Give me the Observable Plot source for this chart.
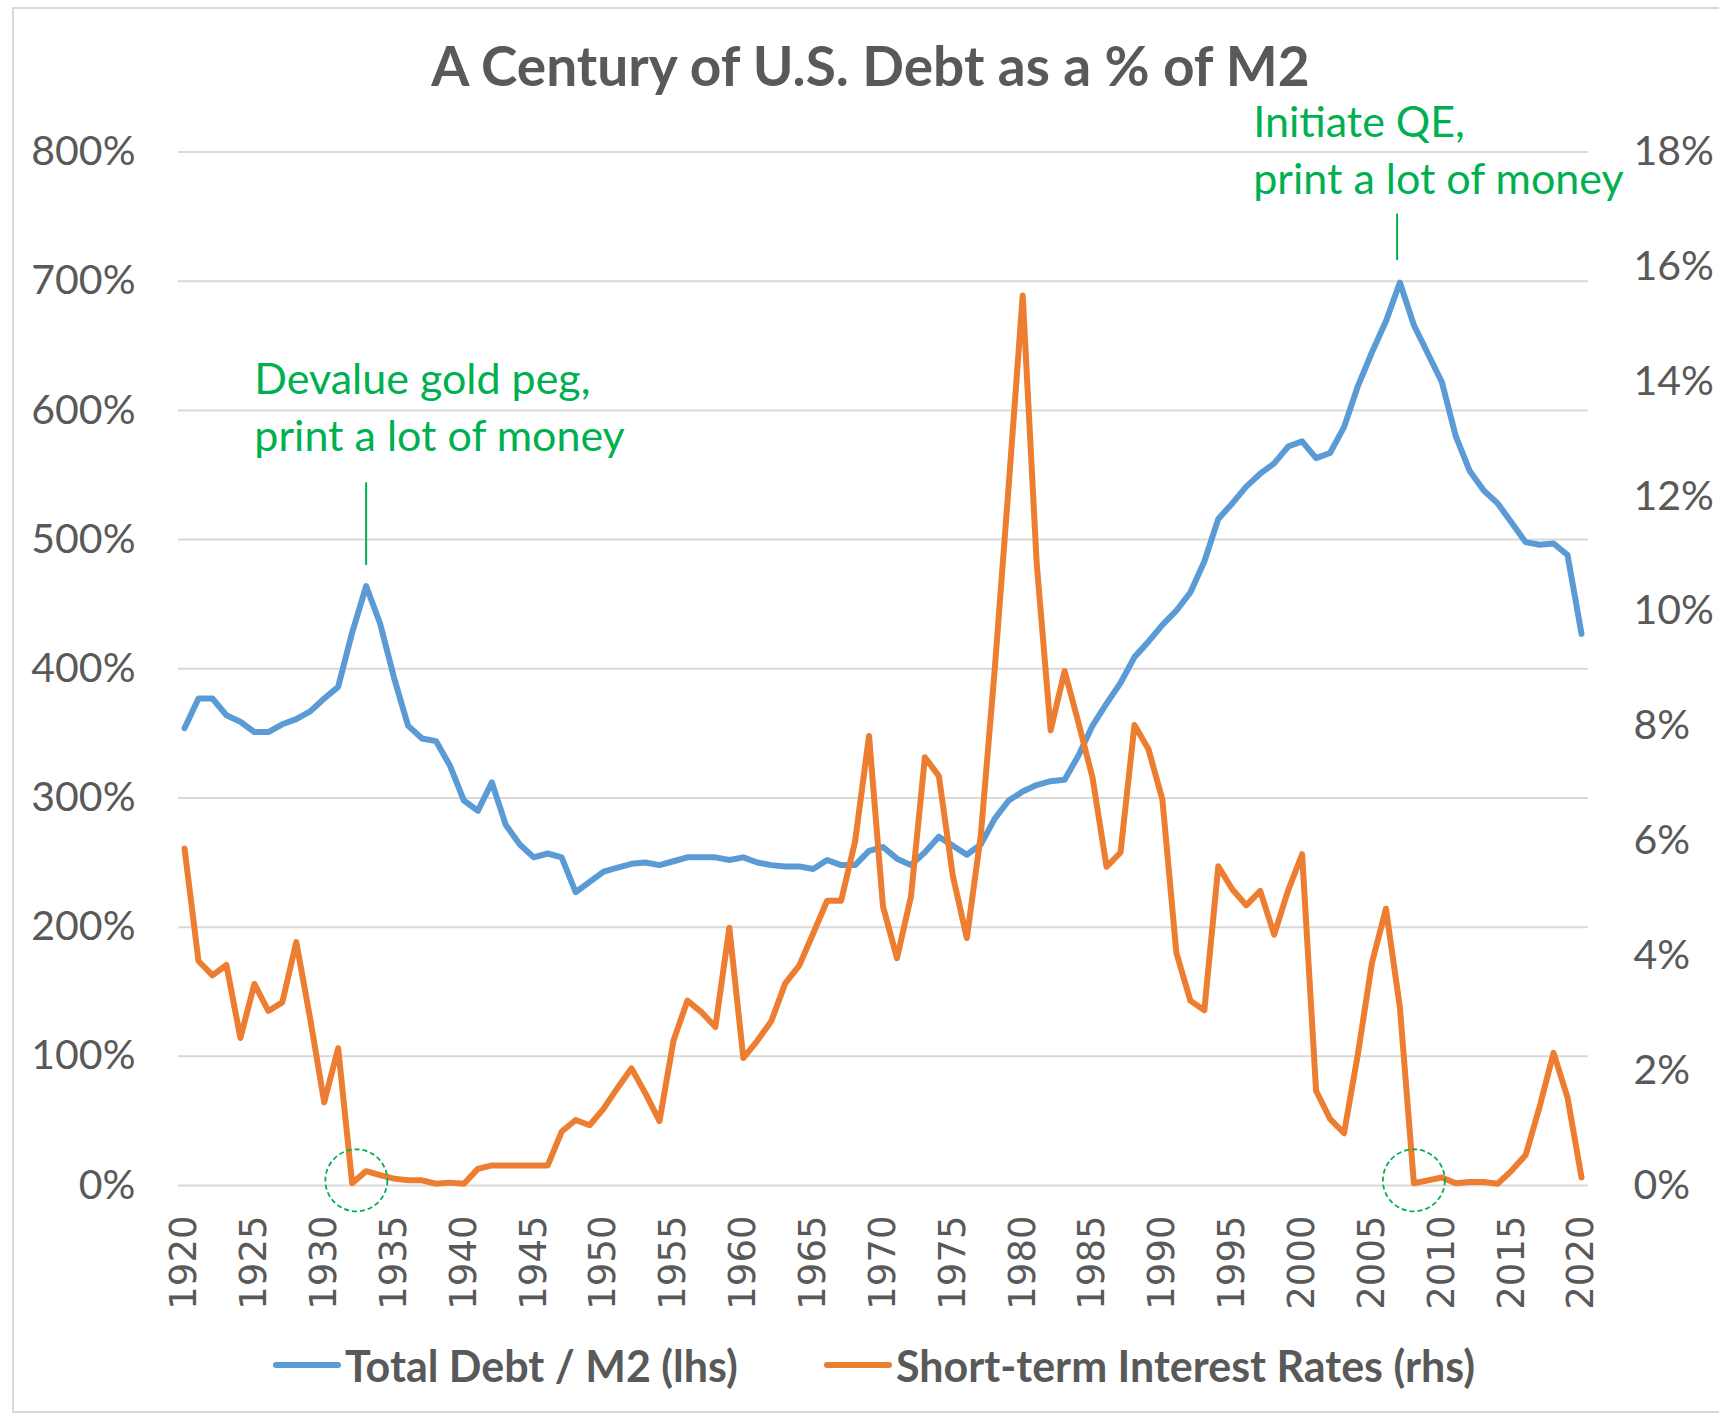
<!DOCTYPE html>
<html>
<head>
<meta charset="utf-8">
<script src="https://cdn.jsdelivr.net/npm/d3@7"></script>
<script src="https://cdn.jsdelivr.net/npm/@observablehq/plot@0.6"></script>
<style>
  html, body { margin: 0; padding: 0; background: #ffffff; }
  #wrap { position: relative; width: 1719px; height: 1414px; overflow: hidden; }
  #title { height: 100px; box-sizing: border-box; padding-top: 38px; text-align: center;
           font-family: Lato, sans-serif; font-weight: 700; font-size: 55px; line-height: 55px;
           color: #595959; letter-spacing: 0px; padding-left: 22px; white-space: nowrap; }
  #chart svg { display: block; }
  #legend { height: 94px; position: relative; font-family: Lato, sans-serif; font-weight: 700;
            font-size: 43px; color: #595959; letter-spacing: 0px; }
  .item { position: absolute; top: -2px; height: 94px; display: flex; align-items: center; white-space: nowrap; }
  .swatch { display: inline-block; width: 68px; height: 6px; border-radius: 3px; margin-right: 4px; }
  #frame { position: absolute; left: 12px; top: 7px; width: 1760px; height: 1406px;
           border: 2px solid #d9d9d9; box-sizing: border-box; pointer-events: none; }
</style>
</head>
<body>
<div id="wrap">
  <div id="title">A Century of U.S. Debt as a % of M2</div>
  <div id="chart"></div>
  <div id="legend">
    <div class="item" style="left:273px"><span class="swatch" style="background:#5B9BD5"></span><span>Total Debt / M2 (lhs)</span></div>
    <div class="item" style="left:824px"><span class="swatch" style="background:#ED7D31"></span><span>Short-term Interest Rates (rhs)</span></div>
  </div>
  <div id="frame"></div>
</div>
<script>
// ---- data ----
const years = d3.range(1920, 2021);

// Total Debt / M2 (%), left axis
const debtToM2 = [
  354, 377, 377, 364, 359, 351, 351, 357, 361, 367,
  377, 386, 428, 464, 435, 393, 356, 346, 344, 325,
  298, 290, 312, 279, 264, 254, 257, 254, 227, 235,
  243, 246, 249, 250, 248, 251, 254, 254, 254, 252,
  254, 250, 248, 247, 247, 245, 252, 248, 248, 259,
  262, 253, 248, 258, 270, 263, 256, 264, 284, 298,
  305, 310, 313, 314, 333, 356, 373, 389, 409, 421,
  434, 445, 459, 483, 516, 528, 541, 551, 559, 572,
  576, 563, 567, 587, 619, 645, 669, 699, 666, 644,
  622, 580, 553, 538, 528, 513, 498, 496, 497, 488,
  427
];

// Short-term interest rates (%), right axis
const shortRate = [
  5.87, 3.91, 3.66, 3.84, 2.57, 3.51, 3.04, 3.19, 4.24, 2.90,
  1.45, 2.39, 0.04, 0.25, 0.18, 0.12, 0.09, 0.09, 0.03, 0.05,
  0.03, 0.29, 0.35, 0.35, 0.35, 0.35, 0.35, 0.94, 1.14, 1.05,
  1.34, 1.70, 2.04, 1.60, 1.12, 2.52, 3.22, 3.02, 2.76, 4.49,
  2.22, 2.52, 2.86, 3.52, 3.83, 4.39, 4.96, 4.96, 5.99, 7.83,
  4.86, 3.96, 5.03, 7.46, 7.13, 5.39, 4.31, 6.10, 9.00, 12.20,
  15.50, 10.84, 7.93, 8.96, 8.05, 7.10, 5.55, 5.80, 8.02, 7.60,
  6.72, 4.05, 3.22, 3.05, 5.56, 5.16, 4.88, 5.13, 4.37, 5.14,
  5.77, 1.65, 1.16, 0.91, 2.30, 3.88, 4.82, 3.10, 0.04, 0.09,
  0.14, 0.04, 0.06, 0.06, 0.03, 0.26, 0.53, 1.37, 2.31, 1.53,
  0.14
];

const leftTicks = [0, 100, 200, 300, 400, 500, 600, 700, 800];
const rightTicks = [0, 2, 4, 6, 8, 10, 12, 14, 16, 18];
const xTicks = d3.range(1920, 2021, 5);

const annotations = [
  {year: 1925, value: 644, label: "Devalue gold peg,\nprint a lot of money"},
  {year: 1996.5, value: 843, label: "Initiate QE,\nprint a lot of money"}
];
const annotationTicks = [
  {year: 1933, from: 544, to: 480},
  {year: 2006.8, from: 752, to: 716}
];
const circledYears = [1932.3, 2008];

// ---- build ----
const rightMax = 18, leftMax = 800;
const toLeft = v => v * leftMax / rightMax;
const debtRows = years.map((year, i) => ({year, value: debtToM2[i]}));
const rateRows = years.map((year, i) => ({year, value: toLeft(shortRate[i])}));

const chart = Plot.plot({
  width: 1719,
  height: 1220,
  marginLeft: 178,
  marginRight: 131,
  marginTop: 51.5,
  marginBottom: 135,
  style: {fontFamily: "Lato, sans-serif", fontSize: "41px", color: "#595959", background: "transparent", overflow: "visible"},
  x: {domain: [1919.57, 2020.5]},
  y: {domain: [0, leftMax]},
  marks: [
    Plot.gridY(leftTicks, {stroke: "#d9d9d9", strokeWidth: 2, strokeOpacity: 1}),
    Plot.axisY(leftTicks, {anchor: "left", tickSize: 0, tickPadding: 43, tickFormat: d => d + "%", label: null, fill: "#595959", fontSize: 41}),
    Plot.axisY(rightTicks.map(toLeft), {anchor: "right", tickSize: 0, tickPadding: 45,
      tickFormat: d => Math.round(d * rightMax / leftMax) + "%", label: null, fill: "#595959", fontSize: 41}),
    Plot.axisX(xTicks, {anchor: "bottom", tickSize: 0, tickPadding: 30, tickRotate: -90,
      tickFormat: d => String(d), label: null, fontFamily: "DejaVu Sans", fontSize: 37, fill: "#595959"}),
    Plot.line(debtRows, {x: "year", y: "value", stroke: "#5B9BD5", strokeWidth: 6, strokeLinejoin: "round", strokeLinecap: "round"}),
    Plot.line(rateRows, {x: "year", y: "value", stroke: "#ED7D31", strokeWidth: 6, strokeLinejoin: "round", strokeLinecap: "round"}),
    Plot.dot(circledYears, {x: d => d, y: 4, r: 31, stroke: "#00B050", strokeWidth: 1.8, strokeDasharray: "5,3", fill: "none"}),
    Plot.ruleX(annotationTicks, {x: "year", y1: "from", y2: "to", stroke: "#00B050", strokeWidth: 2}),
    Plot.text(annotations, {x: "year", y: "value", text: "label", textAnchor: "start", lineAnchor: "top",
      lineHeight: 1.33, fill: "#00B050", fontSize: 43, fontFamily: "Lato, sans-serif"})
  ]
});
document.getElementById("chart").appendChild(chart);
</script>
</body>
</html>
